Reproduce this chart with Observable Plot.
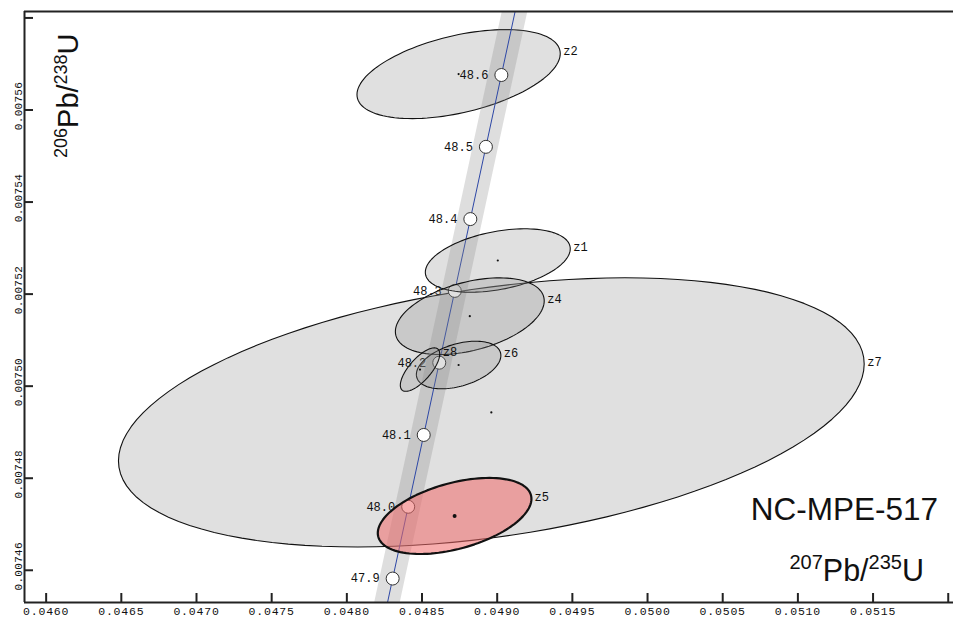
<!DOCTYPE html>
<html><head><meta charset="utf-8">
<script src="https://cdn.jsdelivr.net/npm/d3@7"></script>
<script src="https://cdn.jsdelivr.net/npm/@observablehq/plot@0.6"></script>
<style>
html,body{margin:0;padding:0;background:#fff;overflow:hidden}
#chart{position:relative;width:953px;height:621px}
#chart g[aria-label="x-axis tick label"] text{letter-spacing:0.8px}
#chart g[aria-label="y-axis tick label"] text{letter-spacing:0.3px}
</style></head><body><div id="chart"></div>
<script>
// Concordia ages (Ma) and their ratios
const concAges = [47.8, 47.9, 48.0, 48.1, 48.2, 48.3, 48.4, 48.5, 48.6, 48.7];
const concX = [0.0482015, 0.0483047, 0.0484080, 0.0485113, 0.0486146, 0.0487180, 0.0488214, 0.0489249, 0.0490278, 0.0491312];
const concY = [0.0074425, 0.0074582, 0.0074738, 0.0074894, 0.0075051, 0.0075207, 0.0075363, 0.0075520, 0.0075676, 0.0075832];
const markedAges = [47.9, 48.0, 48.1, 48.2, 48.3, 48.4, 48.5, 48.6];
const bandHalfWidth = 0.000085; // decay-constant envelope, 207Pb/235U units

// Grains: centre, error half-extents, error correlation
const grains   = ["z7", "z2", "z1", "z4", "z6", "z8", "z5"];
const grainX   = [0.048961, 0.0487434, 0.049004, 0.0488178, 0.0487434, 0.0484867, 0.0487168];
const grainXErr= [0.002480, 0.000676, 0.000482, 0.000495, 0.000281, 0.000131, 0.000511];
const grainY   = [0.0074943, 0.0075678, 0.0075273, 0.0075152, 0.0075046, 0.0075036, 0.0074718];
const grainYErr= [0.00002924, 0.00000967, 0.00000689, 0.00000833, 0.00000517, 0.00000472, 0.00000826];
const grainRho = [0.36, 0.46, 0.37, 0.40, 0.40, 0.72, 0.45];
const underConcordia = ["z7", "z2"];
const highlighted = "z5";

// Axis ticks
const xTickLabels = [0.0460, 0.0465, 0.0470, 0.0475, 0.0480, 0.0485, 0.0490, 0.0495, 0.0500, 0.0505, 0.0510, 0.0515];
const xTickExtra = [0.0520];
const yTickLabels = [0.00746, 0.00748, 0.00750, 0.00752, 0.00754, 0.00756];
const yTickExtra = [0.00758];
const xDomain = [0.045856, 0.052035];
const yDomain = [0.007453, 0.0075814];

const sampleName = "NC-MPE-517";

// ---- build tables ----
const conc = concAges.map((a, i) => ({age: a, x: concX[i], y: concY[i]}));
const marks = conc.filter(d => markedAges.some(m => Math.abs(m - d.age) < 1e-9));
const grainTable = grains.map((g, i) => ({grain: g, x: grainX[i], xErr: grainXErr[i], y: grainY[i], yErr: grainYErr[i], rho: grainRho[i]}));
const N = 120;
const ellipsePts = [];
grainTable.forEach(d => {
  for (let k = 0; k < N; k++) {
    const t = 2 * Math.PI * k / N;
    ellipsePts.push({grain: d.grain,
      x: d.x + d.xErr * Math.cos(t),
      y: d.y + d.yErr * (d.rho * Math.cos(t) + Math.sqrt(1 - d.rho * d.rho) * Math.sin(t))});
  }
});
const lowPts = ellipsePts.filter(d => underConcordia.includes(d.grain));
const greyPts = ellipsePts.filter(d => !underConcordia.includes(d.grain) && d.grain !== highlighted);
const redPts = ellipsePts.filter(d => d.grain === highlighted);
const greyGrains = grainTable.filter(d => d.grain !== highlighted);
const redGrains = grainTable.filter(d => d.grain === highlighted);

const mono = "Liberation Mono, DejaVu Sans Mono, monospace";
const W = 953, H = 621, mL = 24, mR = 0, mT = 11, mB = 19;
const greyFill = {fill: "#8c8c8c", fillOpacity: 0.27, stroke: "#111", strokeWidth: 1.1};

const chart = Plot.plot({
  width: W, height: H,
  marginLeft: mL, marginRight: mR, marginTop: mT, marginBottom: mB,
  x: {domain: xDomain},
  y: {domain: yDomain},
  style: {background: "white", color: "#111"},
  marks: [
    Plot.line(lowPts, {x: "x", y: "y", z: "grain", curve: "linear-closed", ...greyFill, clip: true}),
    Plot.areaX(conc, {y: "y", x1: d => d.x - bandHalfWidth, x2: d => d.x + bandHalfWidth, fill: "#8a8a8a", fillOpacity: 0.28, clip: true}),
    Plot.line(conc, {x: "x", y: "y", stroke: "#2d47a6", strokeWidth: 1, clip: true}),
    Plot.dot(marks, {x: "x", y: "y", r: 6.5, fill: "white", stroke: "#333", strokeWidth: 1}),
    Plot.text(marks, {x: "x", y: "y", text: d => d.age.toFixed(1), textAnchor: "end", dx: -13, fontFamily: mono, fontSize: 12, fill: "#111"}),
    Plot.line(greyPts, {x: "x", y: "y", z: "grain", curve: "linear-closed", ...greyFill, clip: true}),
    Plot.line(redPts, {x: "x", y: "y", z: "grain", curve: "linear-closed", fill: "#f06a6a", fillOpacity: 0.55, stroke: "#111", strokeWidth: 2.2, clip: true}),
    Plot.dot(greyGrains, {x: "x", y: "y", r: 1.1, fill: "#111"}),
    Plot.dot(redGrains, {x: "x", y: "y", r: 2, fill: "#111"}),
    Plot.text(grainTable, {x: d => d.x + d.xErr, y: d => d.y + d.yErr * d.rho, text: "grain", textAnchor: "start", dx: 3, dy: -2, fontFamily: mono, fontSize: 12, fill: "#111"}),
    // frame lines
    Plot.ruleY([yDomain[1]], {stroke: "#222", strokeWidth: 2}),
    Plot.ruleY([yDomain[0]], {stroke: "#222", strokeWidth: 2}),
    Plot.ruleX([xDomain[0]], {stroke: "#222", strokeWidth: 2}),
    // inward ticks
    Plot.tickX(xTickLabels.concat(xTickExtra), {x: d => d, insetTop: (H - mT - mB) - 9, stroke: "#222", strokeWidth: 2}),
    Plot.tickY(yTickLabels.concat(yTickExtra), {y: d => d, insetRight: (W - mL - mR) - 9, stroke: "#222", strokeWidth: 2}),
    // tick labels
    Plot.axisX({ticks: xTickLabels, tickSize: 0, tickPadding: 4, tickFormat: d3.format(".4f"), label: null, fontFamily: mono, fontSize: 11.5}),
    Plot.axisY({ticks: yTickLabels, tickSize: 0, tickPadding: 3, tickRotate: -90, tickFormat: d3.format(".5f"), label: null, fontFamily: mono, fontSize: 11, dy: -4})
  ]
});
document.getElementById("chart").appendChild(chart);

// titles with superscripts
const svg = d3.select(chart);
const sans = "Liberation Sans, Arial, Helvetica, sans-serif";
function isotopeLabel(g, a, b, c, d, big, small, rise) {
  const t = g.append("text").attr("font-family", sans).attr("font-size", big).attr("fill", "#111");
  t.append("tspan").attr("font-size", small).attr("dy", -rise).text(a);
  t.append("tspan").attr("dy", rise).text(b);
  t.append("tspan").attr("font-size", small).attr("dy", -rise).text(c);
  t.append("tspan").attr("dy", rise).text(d);
  return t;
}
const yt = isotopeLabel(svg, "206", "Pb/", "238", "U", 29, 18, 11);
yt.attr("transform", "translate(78,158) rotate(-90)").attr("text-anchor", "start");
const xt = isotopeLabel(svg, "207", "Pb/", "235", "U", 30.5, 20, 12);
xt.attr("x", 924).attr("y", 581).attr("text-anchor", "end");
svg.append("text").attr("x", 938).attr("y", 520).attr("text-anchor", "end")
  .attr("font-family", sans).attr("font-size", 31.5).attr("fill", "#111").text(sampleName);
</script></body></html>
